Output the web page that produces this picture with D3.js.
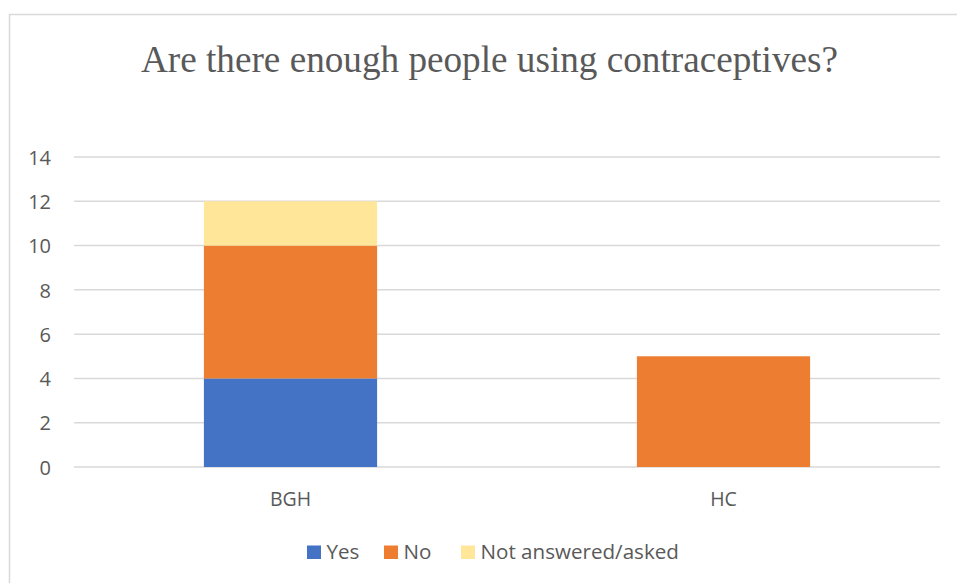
<!DOCTYPE html>
<html>
<head>
<meta charset="utf-8">
<script src="https://cdn.jsdelivr.net/npm/d3@7"></script>
<style>
  html, body { margin: 0; padding: 0; background: #fff; }
  svg { display: block; }
</style>
</head>
<body>
<svg id="chart" width="957" height="583"></svg>
<script>
// Survey responses per site
const categories = ["BGH", "HC"];
const seriesNames = ["Yes", "No", "Not answered/asked"];
const yesValues = [4, 0];
const noValues = [6, 5];
const notAnsweredValues = [2, 0];
const yTicks = [0, 2, 4, 6, 8, 10, 12, 14];
const colors = ["#4472C4", "#ED7D31", "#FFE699"];
const title = "Are there enough people using contraceptives?";

const sans = "'Open Sans', 'Noto Sans', sans-serif";
const textColor = "#595959";

const svg = d3.select("#chart");

// Chart frame (runs past the right and bottom edges)
svg.append("rect")
  .attr("x", 9.5).attr("y", 14.5)
  .attr("width", 970).attr("height", 600)
  .attr("fill", "#fff").attr("stroke", "#d9d9d9").attr("stroke-width", 1.5);

// Title
svg.append("text")
  .attr("x", 489.5).attr("y", 71.5)
  .attr("text-anchor", "middle")
  .attr("font-family", "'Liberation Serif', 'Times New Roman', serif")
  .attr("font-size", 37.2)
  .attr("fill", textColor)
  .text(title);

const plot = { left: 74, right: 940, top: 157, bottom: 467 };

const x = d3.scaleBand().domain(categories)
  .range([plot.left, plot.right]).paddingInner(0.6).paddingOuter(0.3);
const y = d3.scaleLinear().domain([0, 14]).range([plot.bottom, plot.top]);

// Gridlines
svg.append("g").selectAll("line").data(yTicks).join("line")
  .attr("x1", plot.left).attr("x2", plot.right)
  .attr("y1", d => y(d)).attr("y2", d => y(d))
  .attr("stroke", "#d9d9d9").attr("stroke-width", 1.5);

// Y axis labels
const yAxis = d3.axisLeft(y).tickValues(yTicks).tickSize(0).tickPadding(0);
svg.append("g")
  .attr("transform", "translate(51,0)")
  .call(yAxis)
  .call(g => g.attr("font-family", null).attr("font-size", null))
  .call(g => g.select(".domain").remove())
  .call(g => g.selectAll("text")
    .attr("dy", "0.36em")
    .style("font-family", sans)
    .style("font-size", "20px").attr("fill", textColor));

// Stacked bars
const rows = categories.map((c, i) => ({
  cat: c, "Yes": yesValues[i], "No": noValues[i], "Not answered/asked": notAnsweredValues[i]
}));
const stacked = d3.stack().keys(seriesNames)(rows);

svg.append("g").selectAll("g").data(stacked).join("g")
  .attr("fill", (d, i) => colors[i])
  .selectAll("rect").data(d => d).join("rect")
  .attr("x", d => x(d.data.cat))
  .attr("width", x.bandwidth())
  .attr("y", d => y(d[1]))
  .attr("height", d => y(d[0]) - y(d[1]));

// X axis labels
const xAxis = d3.axisBottom(x).tickSize(0).tickPadding(0);
svg.append("g")
  .attr("transform", "translate(0,499)")
  .call(xAxis)
  .call(g => g.attr("font-family", null).attr("font-size", null))
  .call(g => g.select(".domain").remove())
  .call(g => g.selectAll("text")
    .attr("y", 0)
    .attr("dy", "0.36em")
    .style("font-family", sans)
    .style("font-size", "19.5px").attr("fill", textColor));

// Legend
const legendX = [307, 384, 461];
const legend = svg.append("g");
seriesNames.forEach((name, i) => {
  legend.append("rect")
    .attr("x", legendX[i]).attr("y", 545.5)
    .attr("width", 14).attr("height", 13.5)
    .attr("fill", colors[i]);
  legend.append("text")
    .attr("x", legendX[i] + 19.5).attr("y", 559)
    .style("font-family", sans)
    .style("font-size", "20.6px").attr("fill", textColor)
    .text(name);
});
</script>
</body>
</html>
